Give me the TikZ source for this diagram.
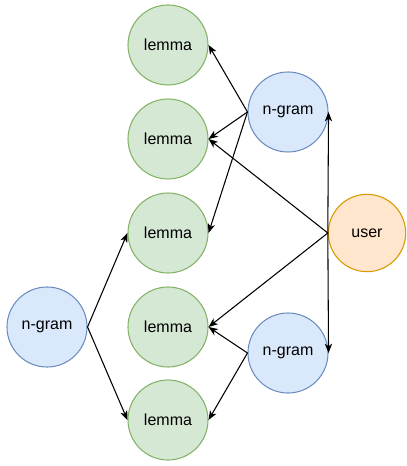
\documentclass[tikz,border=0pt]{standalone}
\usepackage{fontspec}
\setmainfont{Liberation Sans}
\usetikzlibrary{arrows.meta}
\definecolor{lemmafill}{HTML}{D5E8D4}
\definecolor{lemmaline}{HTML}{82B366}
\definecolor{gramfill}{HTML}{DAE8FC}
\definecolor{gramline}{HTML}{6C8EBF}
\definecolor{userfill}{HTML}{FFE6CC}
\definecolor{userline}{HTML}{D79B00}

\begin{document}
\begin{tikzpicture}[x=0.75pt,y=-0.75pt,line width=0.8pt,font=\fontsize{12}{14}\selectfont,
  lemma/.style={circle,draw=lemmaline,fill=lemmafill,minimum size=60pt,inner sep=0pt},
  ngram/.style={circle,draw=gramline,fill=gramfill,minimum size=60pt,inner sep=0pt},
  usr/.style={circle,draw=userline,fill=userfill,minimum size=58pt,inner sep=0pt},
  link/.style={-{Stealth[length=7pt,width=5.5pt,inset=2pt]},black}]
\useasboundingbox (0,0) rectangle (406,466);
% lemmas
\node[lemma] (L1) at (168,45) {lemma};
\node[lemma] (L2) at (168,139) {lemma};
\node[lemma] (L3) at (168,233) {lemma};
\node[lemma] (L4) at (168,327) {lemma};
\node[lemma] (L5) at (168,420) {lemma};
% n-grams and user
\node[ngram] (G1) at (288,112) {n-gram};
\node[ngram] (G2) at (288,353) {n-gram};
\node[ngram] (G3) at (47,327) {n-gram};
\node[usr] (U) at (367,233) {user};
\draw[link] (G1.west)--(L1.east);
\draw[link] (G1.west)--(L2.east);
\draw[link] (G1.west)--(L3.east);
\draw[link] (U.west)--(L2.east);
\draw[link] (U.west)--(L4.east);
\draw[link] (U.west)--(G1.east);
\draw[link] (U.west)--(G2.east);
\draw[link] (G3.east)--(L3.west);
\draw[link] (G3.east)--(L5.west);
\draw[link] (G2.west)--(L4.east);
\draw[link] (G2.west)--(L5.east);
\end{tikzpicture}
\end{document}
